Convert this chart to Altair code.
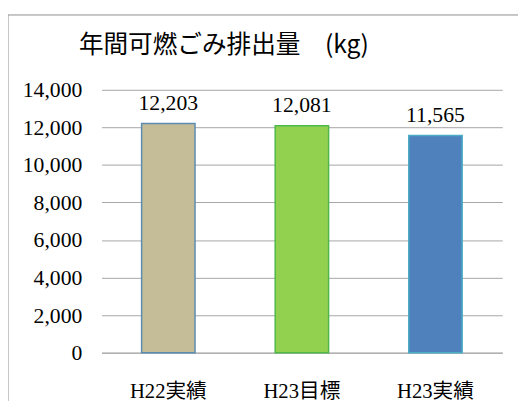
import altair as alt
import pandas as pd

categories = ["H22実績", "H23目標", "H23実績"]
values = [12203, 12081, 11565]
fills = ["#C4BD97", "#92D050", "#4F81BD"]
strokes = ["#5B8DB0", "#50B848", "#4BACC6"]
y_ticks = [0, 2000, 4000, 6000, 8000, 10000, 12000, 14000]
title_text = "年間可燃ごみ排出量　(kg)"

df = pd.DataFrame({"cat": categories, "val": values})

serif = "Liberation Serif, Noto Sans CJK JP"
grid_col = "#A6A6A6"

x_enc = alt.X("cat:N", sort=categories, title=None,
              scale=alt.Scale(paddingInner=0.6, paddingOuter=0.3),
              axis=alt.Axis(labelAngle=0, ticks=False, domain=True, domainColor=grid_col,
                            labelFont=serif, labelFontSize=21, labelColor="#000000",
                            labelPadding=29))
y_enc = alt.Y("val:Q", title=None,
              scale=alt.Scale(domain=[0, 14000], nice=False),
              axis=alt.Axis(values=y_ticks, format=",.0f", ticks=False, domain=False,
                            grid=True, gridColor=grid_col, gridOpacity=1,
                            labelOverlap=False,
                            labelFont=serif, labelFontSize=22, labelColor="#000000",
                            labelPadding=20))

base = alt.Chart(df)

bars = base.mark_bar(strokeWidth=1.5).encode(
    x=x_enc,
    y=y_enc,
    fill=alt.Fill("cat:N", scale=alt.Scale(domain=categories, range=fills), legend=None),
    stroke=alt.Stroke("cat:N", scale=alt.Scale(domain=categories, range=strokes), legend=None),
)

labels = base.mark_text(dy=-14, baseline="alphabetic", font=serif, fontSize=22,
                        color="#000000").encode(
    x=x_enc,
    y=y_enc,
    text=alt.Text("val:Q", format=",.0f"),
)

title = alt.Chart(pd.DataFrame({"t": [title_text]})).mark_text(
    align="left", baseline="alphabetic", font="Noto Sans CJK JP", fontSize=25,
    color="#000000").encode(
    x=alt.value(-23), y=alt.value(-37), text="t:N")

border = alt.Chart(pd.DataFrame({"a": [0]})).mark_rect(
    fillOpacity=0, stroke="#8C8C8C", strokeWidth=1).encode(
    x=alt.value(-95), x2=alt.value(1000), y=alt.value(-76), y2=alt.value(1000))

chart = alt.layer(bars, labels, title, border).properties(
    width=407, height=267,
    autosize=alt.AutoSizeParams(type="none"),
    padding={"left": 95, "top": 80, "right": 16, "bottom": 46},
).configure_view(stroke=None)

chart.save("out.html", embed_options={"renderer": "svg", "actions": False})
